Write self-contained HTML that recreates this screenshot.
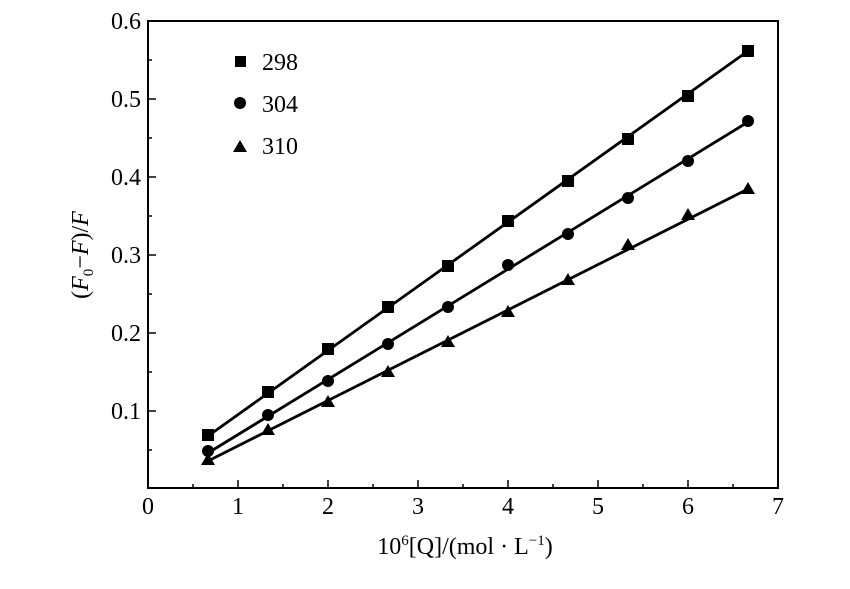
<!DOCTYPE html>
<html><head><meta charset="utf-8"><style>body{margin:0;background:#fff}</style></head><body>
<svg width="850" height="584" xmlns="http://www.w3.org/2000/svg" font-family="Liberation Serif, serif" font-size="24" fill="#000">
<rect x="148" y="21" width="630" height="467" fill="none" stroke="#000" stroke-width="2"/>
<g stroke="#000" stroke-width="1.5">
<line x1="238" y1="488" x2="238" y2="480"/><line x1="328" y1="488" x2="328" y2="480"/><line x1="418" y1="488" x2="418" y2="480"/><line x1="508" y1="488" x2="508" y2="480"/><line x1="598" y1="488" x2="598" y2="480"/><line x1="688" y1="488" x2="688" y2="480"/>
<line x1="193" y1="488" x2="193" y2="484"/><line x1="283" y1="488" x2="283" y2="484"/><line x1="373" y1="488" x2="373" y2="484"/><line x1="463" y1="488" x2="463" y2="484"/><line x1="553" y1="488" x2="553" y2="484"/><line x1="643" y1="488" x2="643" y2="484"/><line x1="733" y1="488" x2="733" y2="484"/>
<line x1="148" y1="411" x2="156" y2="411"/><line x1="148" y1="333" x2="156" y2="333"/><line x1="148" y1="255" x2="156" y2="255"/><line x1="148" y1="177" x2="156" y2="177"/><line x1="148" y1="99" x2="156" y2="99"/>
<line x1="148" y1="450" x2="152" y2="450"/><line x1="148" y1="372" x2="152" y2="372"/><line x1="148" y1="294" x2="152" y2="294"/><line x1="148" y1="216" x2="152" y2="216"/><line x1="148" y1="138" x2="152" y2="138"/><line x1="148" y1="60" x2="152" y2="60"/>
</g>
<g text-anchor="middle">
<text x="148" y="514">0</text><text x="238" y="514">1</text><text x="328" y="514">2</text><text x="418" y="514">3</text><text x="508" y="514">4</text><text x="598" y="514">5</text><text x="688" y="514">6</text><text x="778" y="514">7</text>
</g>
<g text-anchor="end">
<text x="141" y="419">0.1</text><text x="141" y="341">0.2</text><text x="141" y="263">0.3</text><text x="141" y="185">0.4</text><text x="141" y="107">0.5</text><text x="141" y="29">0.6</text>
</g>
<text x="465" y="554" text-anchor="middle">10<tspan font-size="15" dy="-9">6</tspan><tspan dy="9">[Q]/(mol · L</tspan><tspan font-size="15" dy="-9">−1</tspan><tspan dy="9">)</tspan></text>
<text transform="translate(88,255) rotate(-90)" text-anchor="middle">(<tspan font-style="italic">F</tspan><tspan font-size="15" dy="5">0</tspan><tspan dy="-5">−</tspan><tspan font-style="italic">F</tspan>)/<tspan font-style="italic">F</tspan></text>
<g stroke="#000" stroke-width="2.8">
<line x1="208" y1="436" x2="748" y2="51"/>
<line x1="208" y1="453" x2="748" y2="122"/>
<line x1="208" y1="461" x2="748" y2="189"/>
</g>
<g>
<rect x="202" y="429" width="12" height="12"/><rect x="262" y="386" width="12" height="12"/><rect x="322" y="343" width="12" height="12"/><rect x="382" y="301" width="12" height="12"/><rect x="442" y="260" width="12" height="12"/><rect x="502" y="215" width="12" height="12"/><rect x="562" y="175" width="12" height="12"/><rect x="622" y="133" width="12" height="12"/><rect x="682" y="90" width="12" height="12"/><rect x="742" y="45" width="12" height="12"/>
<circle cx="208" cy="451" r="6"/><circle cx="268" cy="415" r="6"/><circle cx="328" cy="381" r="6"/><circle cx="388" cy="344" r="6"/><circle cx="448" cy="307" r="6"/><circle cx="508" cy="265" r="6"/><circle cx="568" cy="234" r="6"/><circle cx="628" cy="198" r="6"/><circle cx="688" cy="161" r="6"/><circle cx="748" cy="121" r="6"/>
<polygon points="208,453 201,465 215,465"/><polygon points="268,423 261,435 275,435"/><polygon points="328,395 321,407 335,407"/><polygon points="388,365 381,377 395,377"/><polygon points="448,335 441,347 455,347"/><polygon points="508,305 501,317 515,317"/><polygon points="568,273 561,285 575,285"/><polygon points="628,238 621,250 635,250"/><polygon points="688,208 681,220 695,220"/><polygon points="748,182 741,194 755,194"/>
<rect x="235" y="56" width="11" height="11"/><circle cx="240" cy="103" r="6"/><polygon points="240,140 233,152 247,152"/>
<text x="262" y="70">298</text><text x="262" y="112">304</text><text x="262" y="154">310</text>
</g>
</svg>
</body></html>
